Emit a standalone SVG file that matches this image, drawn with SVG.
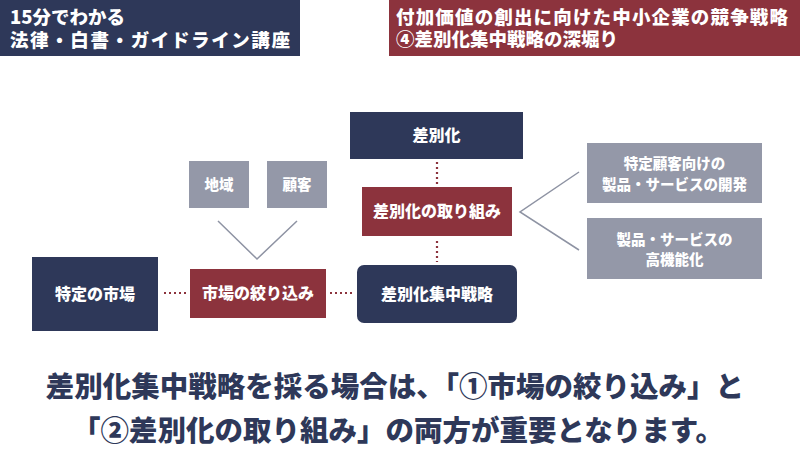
<svg xmlns="http://www.w3.org/2000/svg" width="800" height="450" viewBox="0 0 800 450">
<style>
text{font-family:"Noto Sans CJK JP","Noto Sans",sans-serif;font-weight:900;fill:#fff}
.navy{fill:#2e3859}
.red{fill:#8c333d}
.gray{fill:#9498a8}
.c{text-anchor:middle}
.n{font-size:16px}
.s{font-size:14.5px}
.hd{font-size:18.5px}
.conn{stroke:#8c333d;stroke-width:2.2;stroke-dasharray:2 3;fill:none}
.vline{stroke:#8e93a3;stroke-width:1.5;fill:none}
.big{font-size:28.5px;fill:#2e3859}
</style>
<g id="header-left">
<rect x="0" y="0" width="300" height="56" class="navy"/>
<text x="10" y="24" class="hd">15分でわかる</text>
<text x="10" y="47" class="hd" textLength="280">法律・白書・ガイドライン講座</text>
</g>
<g id="header-right">
<rect x="389" y="0" width="411" height="56" class="red"/>
<text x="396" y="24" class="hd" textLength="392">付加価値の創出に向けた中小企業の競争戦略</text>
<text x="396" y="46" class="hd">④差別化集中戦略の深堀り</text>
</g>
<g id="connectors">
<line x1="437" y1="162" x2="437" y2="184" class="conn"/>
<line x1="437" y1="241" x2="437" y2="262" class="conn"/>
<line x1="164" y1="293" x2="186" y2="293" class="conn"/>
<line x1="330" y1="293" x2="352" y2="293" class="conn"/>
<polyline points="218,221 257,259 297,221" class="vline"/>
<polyline points="579,172 520,212 579,250" class="vline"/>
</g>
<g id="node-sabetsuka">
<rect x="350" y="112" width="173" height="47" class="navy"/>
<text x="436.5" y="141" class="n c">差別化</text>
</g>
<g id="node-chiiki">
<rect x="189" y="161" width="60" height="47" class="gray"/>
<text x="219" y="190" class="s c">地域</text>
</g>
<g id="node-kokyaku">
<rect x="267" y="161" width="60" height="47" class="gray"/>
<text x="297" y="190" class="s c">顧客</text>
</g>
<g id="node-torikumi">
<rect x="362" y="187" width="150" height="49" class="red"/>
<text x="437" y="217" class="n c">差別化の取り組み</text>
</g>
<g id="node-tokutei-shijo">
<rect x="32" y="257" width="126" height="74" class="navy"/>
<text x="95" y="300" class="n c">特定の市場</text>
</g>
<g id="node-shibori">
<rect x="190" y="269" width="136" height="49" class="red"/>
<text x="258" y="299" class="n c">市場の絞り込み</text>
</g>
<g id="node-senryaku">
<rect x="357" y="265" width="160" height="58" rx="7" class="navy"/>
<text x="437" y="300" class="n c">差別化集中戦略</text>
</g>
<g id="node-kaihatsu">
<rect x="587" y="143" width="175" height="60" class="gray"/>
<text x="674.5" y="169" class="s c">特定顧客向けの</text>
<text x="674.5" y="190" class="s c">製品・サービスの開発</text>
</g>
<g id="node-kokinou">
<rect x="587" y="218" width="175" height="61" class="gray"/>
<text x="674.5" y="245" class="s c">製品・サービスの</text>
<text x="674.5" y="265" class="s c">高機能化</text>
</g>
<g id="summary">
<text x="395" y="397" class="big c">差別化集中戦略を採る場合は、「①市場の絞り込み」と</text>
<text x="398" y="441" class="big c">「②差別化の取り組み」の両方が重要となります。</text>
</g>
</svg>
